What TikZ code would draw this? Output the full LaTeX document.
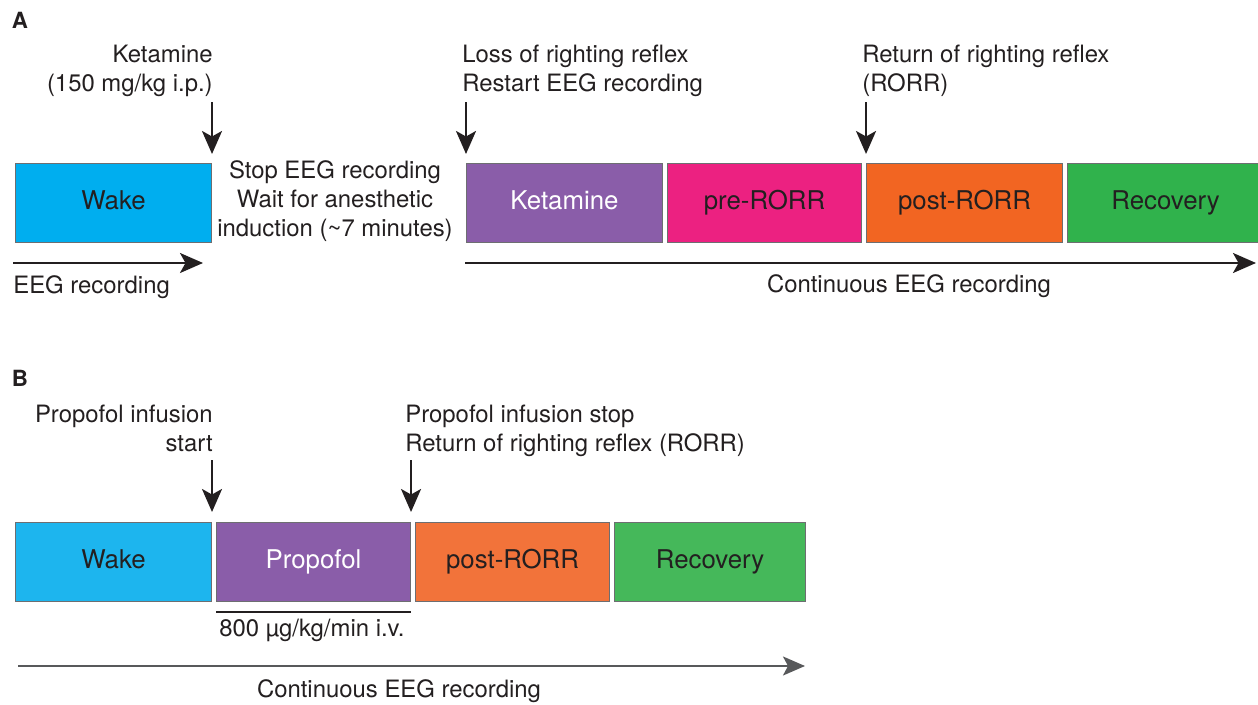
\documentclass[tikz,border=0pt]{standalone}
\usepackage{fontspec}
\setmainfont{TeX Gyre Heros}
\usetikzlibrary{arrows.meta,positioning,calc}
\definecolor{tlInk}{HTML}{231F20}
\definecolor{tlEdge}{HTML}{6D6E71}
\definecolor{tlGray}{HTML}{58595B}
\definecolor{tlCyan}{HTML}{00AEEF}
\definecolor{tlCyanB}{HTML}{1DB5EE}
\definecolor{tlPurple}{HTML}{8A5DA9}
\definecolor{tlPink}{HTML}{EC2181}
\definecolor{tlOrange}{HTML}{F26522}
\definecolor{tlOrangeB}{HTML}{F2733A}
\definecolor{tlGreen}{HTML}{30B24C}
\definecolor{tlGreenB}{HTML}{45B85A}
\tikzset{
  phase/.style={draw=tlEdge, line width=0.6pt, minimum width=3.88cm, minimum height=1.58cm, inner sep=0pt, text height=10.5pt, text depth=3pt, font=\fontsize{14.7}{17}\selectfont, text=tlInk},
  phaseW/.style={phase, text=white},
  lbl/.style={inner sep=0pt, font=\fontsize{13.6}{16.5}\selectfont, text=tlInk},
  panel/.style={inner sep=0pt, font=\fontsize{12.7}{14}\selectfont\bfseries, text=tlInk},
  drop/.style={-{Stealth[length=0.46cm,width=0.4cm,inset=0.11cm]}, line width=1.3pt, draw=tlInk},
  gline/.style={-{Stealth[length=0.44cm,width=0.38cm,inset=0.1cm]}, line width=1.1pt, draw=tlGray},
}
\begin{document}
\begin{tikzpicture}[x=0.02cm, y=-0.02cm, node distance=0.08cm]
  \useasboundingbox (0,0) rectangle (1258,705);
  % panel A
  \node[panel] (labA) at (20,20) {A};
  \node[phase, fill=tlCyan, anchor=north west, minimum width=3.92cm] (wakeA) at (15,163) {Wake};
  \node[phaseW, fill=tlPurple, anchor=north west, minimum width=3.92cm] (ketA) at (466,163) {Ketamine};
  \node[phase, fill=tlPink, right=of ketA] (preA) {pre-RORR};
  \node[phase, fill=tlOrange, right=of preA, minimum width=3.92cm] (postA) {post-RORR};
  \node[phase, fill=tlGreen, right=of postA, minimum width=3.92cm] (recA) {Recovery};
  \node[lbl, align=right, anchor=north east] (ketLbl) at (213,45) {Ketamine\\(150 mg/kg i.p.)};
  \node[lbl, align=left, anchor=north west] (lorLbl) at (462,45) {Loss of righting reflex\\Restart EEG recording};
  \node[lbl, align=left, anchor=north west] (rorrLbl) at (862,45) {Return of righting reflex\\(RORR)};
  \node[lbl, align=center] (waitLbl) at (335,201) {Stop EEG recording\\Wait for anesthetic\\induction (\textasciitilde 7 minutes)};
  \coordinate (ketTail) at ([yshift=1.22cm]wakeA.north east);
  \coordinate (ketTip) at ([yshift=0.18cm]wakeA.north east);
  \coordinate (lorTail) at ([yshift=1.22cm]ketA.north west);
  \coordinate (lorTip) at ([yshift=0.18cm]ketA.north west);
  \coordinate (rorrTail) at ([yshift=1.22cm]postA.north west);
  \coordinate (rorrTip) at ([yshift=0.18cm]postA.north west);
  \draw[drop] (ketTail) -- (ketTip);
  \draw[drop] (lorTail) -- (lorTip);
  \draw[drop] (rorrTail) -- (rorrTip);
  \coordinate (eegS) at (13,263);
  \coordinate (eegE) at (203,263);
  \draw[drop] (eegS) -- (eegE);
  \node[lbl, anchor=west] (eegLbl) at (13,287) {EEG recording};
  \coordinate (contS) at (465,263);
  \coordinate (contE) at (1256,263);
  \draw[drop] (contS) -- (contE);
  \node[lbl] (contLbl) at (909,286) {Continuous EEG recording};
  % panel B
  \node[panel] (labB) at (20,378) {B};
  \node[phase, fill=tlCyanB, anchor=north west, minimum width=3.92cm] (wakeB) at (15,522) {Wake};
  \node[phaseW, fill=tlPurple, right=of wakeB] (propB) {Propofol};
  \node[phase, fill=tlOrangeB, right=of propB] (postB) {post-RORR};
  \node[phase, fill=tlGreenB, right=of postB, minimum width=3.82cm] (recB) {Recovery};
  \node[lbl, align=right, anchor=north east] (pStartLbl) at (213,405) {Propofol infusion\\start};
  \node[lbl, align=left, anchor=north west] (pStopLbl) at (405,405) {Propofol infusion stop\\Return of righting reflex (RORR)};
  \coordinate (pStartTail) at ([yshift=1.24cm]wakeB.north east);
  \coordinate (pStartTip) at ([yshift=0.2cm]wakeB.north east);
  \coordinate (pStopTail) at ([yshift=1.24cm]propB.north east);
  \coordinate (pStopTip) at ([yshift=0.2cm]propB.north east);
  \draw[drop] (pStartTail) -- (pStartTip);
  \draw[drop] (pStopTail) -- (pStopTip);
  \coordinate (doseL) at ([yshift=-0.2cm]propB.south west);
  \coordinate (doseR) at ([yshift=-0.2cm]propB.south east);
  \draw[line width=1pt, tlInk] (doseL) -- (doseR);
  \node[lbl] (doseLbl) at (312,630) {800 µg/kg/min i.v.};
  \coordinate (gS) at (18,666);
  \coordinate (gE) at (805,666);
  \draw[gline] (gS) -- (gE);
  \node[lbl] (gLbl) at (399,691) {Continuous EEG recording};
\end{tikzpicture}
\end{document}
